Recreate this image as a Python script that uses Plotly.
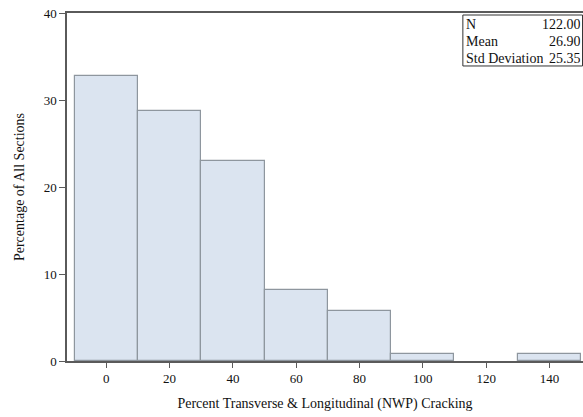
import plotly.graph_objects as go

bin_centers = [0, 20, 40, 60, 80, 100, 120, 140]
percentages = [32.79, 28.69, 22.95, 8.20, 5.74, 0.82, 0.0, 0.82]
stat_labels = ["N", "Mean", "Std Deviation"]
stat_values = ["122.00", "26.90", "25.35"]
x_ticks = [0, 20, 40, 60, 80, 100, 120, 140]
y_ticks = [0, 10, 20, 30, 40]

FONT = "Liberation Serif, Times New Roman, serif"
AX = "#5a5a5a"
TXT = "#111111"

outline_w = [1.2 if p > 0 else 0 for p in percentages]

fig = go.Figure()
fig.add_trace(go.Bar(
    x=bin_centers, y=percentages, width=20,
    marker=dict(color="#dbe4f0", line=dict(color="#8e969e", width=outline_w)),
    showlegend=False, hoverinfo="skip",
))

# stats inset box
box_x0, box_x1 = 112.65, 150.45
box_y0, box_y1 = 33.91, 39.77
fig.add_shape(type="rect", xref="x", yref="y", x0=box_x0, x1=box_x1, y0=box_y0, y1=box_y1,
              line=dict(color="#333333", width=1), fillcolor="white", layer="above")
row_y = [38.76, 36.78, 34.81]
for lab, val, yy in zip(stat_labels, stat_values, row_y):
    fig.add_annotation(x=box_x0 + 0.6, y=yy, xref="x", yref="y", text=lab, showarrow=False,
                       xanchor="left", yanchor="middle", height=16, borderpad=0,
                       font=dict(family=FONT, size=14, color=TXT))
    fig.add_annotation(x=box_x1 - 0.15, y=yy, xref="x", yref="y", text=val, showarrow=False,
                       xanchor="right", yanchor="middle", height=16, borderpad=0,
                       font=dict(family=FONT, size=14, color=TXT))

fig.update_layout(
    width=583, height=417,
    margin=dict(l=67, r=0, t=12.7, b=56),
    paper_bgcolor="white", plot_bgcolor="white",
    font=dict(family=FONT, size=13, color=TXT),
    bargap=0,
    xaxis=dict(
        range=[-12.4, 150.6], tickvals=x_ticks, ticktext=[str(v) for v in x_ticks],
        showgrid=False, zeroline=False, showline=True, linecolor=AX, linewidth=1.5, mirror=True,
        ticks="outside", ticklen=5, tickcolor=AX, tickwidth=1, automargin=False,
        title=dict(text="Percent Transverse & Longitudinal (NWP) Cracking", font=dict(family=FONT, size=14, color=TXT), standoff=13),
        tickfont=dict(family=FONT, size=13, color=TXT),
    ),
    yaxis=dict(
        range=[0, 40], tickvals=y_ticks, ticktext=[str(v) for v in y_ticks],
        showgrid=False, zeroline=False, showline=True, linecolor=AX, linewidth=1.5, mirror=False,
        ticks="outside", ticklen=6, tickcolor=AX, tickwidth=1, automargin=False,
        title=dict(text="Percentage of All Sections", font=dict(family=FONT, size=14, color=TXT), standoff=16),
        tickfont=dict(family=FONT, size=13, color=TXT),
    ),
)

fig.write_html("out.html", config={"displayModeBar": False},
               post_script="document.body.style.margin='0';document.body.style.overflow='hidden';")
